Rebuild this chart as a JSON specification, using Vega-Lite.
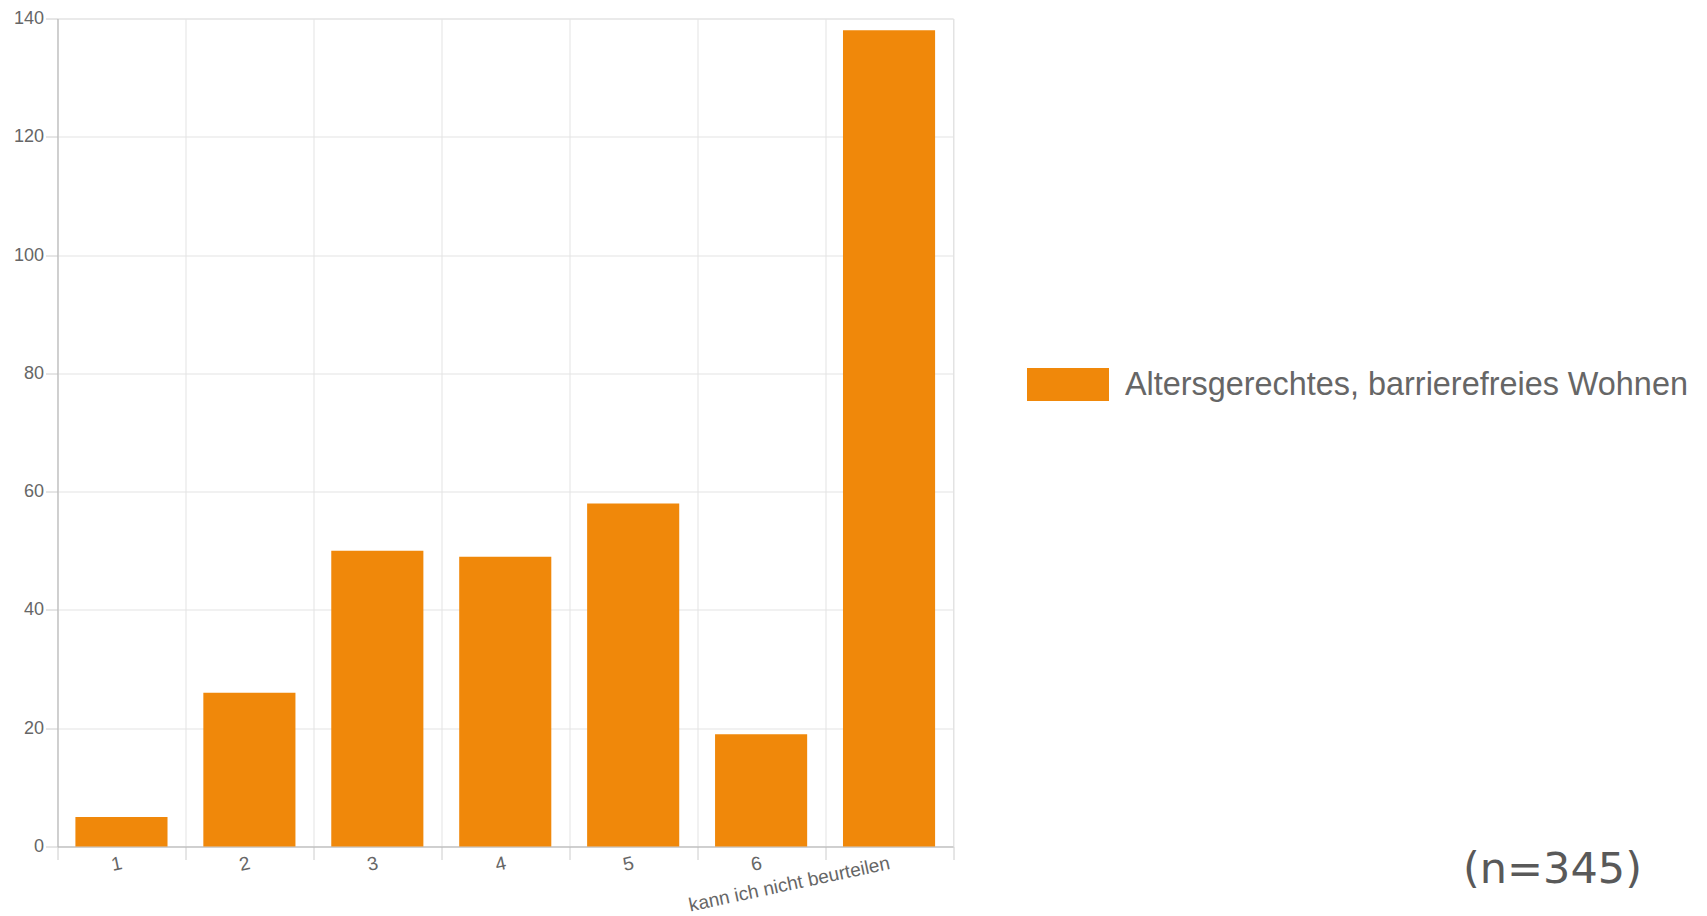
{
  "$schema": "https://vega.github.io/schema/vega-lite/v6.json",
  "width": 895.5,
  "height": 828,
  "autosize": "none",
  "padding": {"left": 57.5, "top": 18.5, "right": 754, "bottom": 69.5},
  "background": "white",
  "data": {
    "values": [
      {"rating": "1", "count": 5, "series": "Altersgerechtes, barrierefreies Wohnen"},
      {"rating": "2", "count": 26, "series": "Altersgerechtes, barrierefreies Wohnen"},
      {"rating": "3", "count": 50, "series": "Altersgerechtes, barrierefreies Wohnen"},
      {"rating": "4", "count": 49, "series": "Altersgerechtes, barrierefreies Wohnen"},
      {"rating": "5", "count": 58, "series": "Altersgerechtes, barrierefreies Wohnen"},
      {"rating": "6", "count": 19, "series": "Altersgerechtes, barrierefreies Wohnen"},
      {"rating": "kann ich nicht beurteilen", "count": 138, "series": "Altersgerechtes, barrierefreies Wohnen"}
    ]
  },
  "title": {
    "text": "(n=345)",
    "orient": "top",
    "anchor": "start",
    "frame": "group",
    "dx": 1405.5,
    "dy": 886,
    "font": "DejaVu Sans",
    "fontSize": 43,
    "fontWeight": "normal",
    "color": "#595959",
    "baseline": "top"
  },
  "mark": {"type": "bar", "width": {"band": 0.72}},
  "encoding": {
    "x": {
      "field": "rating",
      "type": "nominal",
      "sort": null,
      "scale": {"paddingInner": 0, "paddingOuter": 0},
      "axis": {
        "title": null,
        "tickBand": "extent",
        "grid": true,
        "gridColor": "#e3e3e3",
        "tickColor": "#cccccc",
        "tickSize": 13,
        "domainColor": "#b5b5b5",
        "labelAngle": -12,
        "labelAlign": "right",
        "labelBaseline": "middle",
        "labelPadding": 3,
        "labelFont": "Liberation Sans",
        "labelFontSize": 19,
        "labelColor": "#666666",
        "labelOverlap": false,
        "labelBound": false,
        "labelLimit": 0
      }
    },
    "y": {
      "field": "count",
      "type": "quantitative",
      "scale": {"domain": [0, 140], "nice": false},
      "axis": {
        "title": null,
        "values": [0, 20, 40, 60, 80, 100, 120, 140],
        "grid": true,
        "gridColor": "#e3e3e3",
        "tickColor": "#cccccc",
        "tickSize": 12,
        "domainColor": "#b5b5b5",
        "labelPadding": 2,
        "labelFont": "Liberation Sans",
        "labelFontSize": 18,
        "labelColor": "#666666"
      }
    },
    "color": {
      "field": "series",
      "type": "nominal",
      "scale": {"range": ["#f0880a"]},
      "legend": {
        "title": null,
        "orient": "none",
        "legendX": 969.5,
        "legendY": 325,
        "padding": 0,
        "symbolType": "M-1,-0.4H1V0.4H-1Z",
        "symbolSize": 6724,
        "symbolStrokeWidth": 0,
        "symbolOpacity": 1,
        "labelOffset": 16,
        "labelFont": "Liberation Sans",
        "labelFontSize": 32.4,
        "labelColor": "#666666",
        "labelLimit": 0
      }
    }
  },
  "config": {"view": {"stroke": "#e3e3e3"}}
}
